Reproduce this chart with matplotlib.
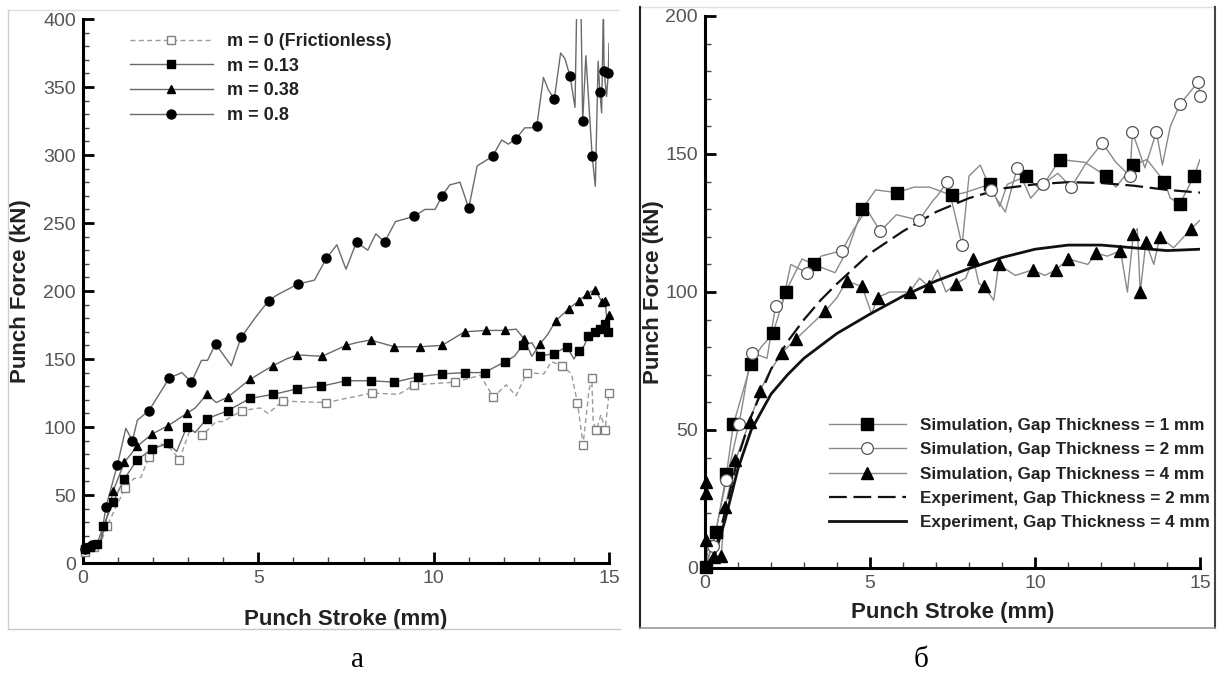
import numpy as np
import matplotlib
matplotlib.use("Agg")
import matplotlib.pyplot as plt
from matplotlib.lines import Line2D
from matplotlib.ticker import MultipleLocator

plt.rcParams['font.family'] = ['Liberation Sans', 'DejaVu Sans']

# ---------------- panel (a): friction factor m ----------------
# markers
m0_x = [0.05, 0.3, 0.68, 1.2, 1.88, 2.75, 3.40, 4.52, 5.69, 6.94, 8.23, 9.45, 10.62, 11.7,
        12.66, 13.67, 14.1, 14.26, 14.51, 14.64, 14.89, 15.0]
m0_y = [8, 12, 27, 55, 78, 76, 94, 112, 119, 118, 125, 131, 133, 122,
        140, 145, 118, 87, 136, 98, 98, 125]
# extra points of the curve between markers
m0_lx = [0, 0.45, 0.55, 1.45, 1.65, 2.2, 2.5, 3.05, 3.8, 4.0, 5.05, 5.28, 7.5, 9.0, 11.33,
         12.07, 12.35, 13.14, 13.36, 13.93, 14.43, 14.55, 14.77]
m0_ly = [0, 13, 18, 62, 63, 88, 84, 98, 104, 104, 114, 110, 121, 124, 138,
         131, 123, 139, 148, 139, 127, 103, 109]

m013_x = [0.05, 0.2, 0.4, 0.58, 0.86, 1.18, 1.55, 1.98, 2.43, 2.96, 3.53, 4.13, 4.76, 5.43,
          6.09, 6.80, 7.5, 8.2, 8.88, 9.56, 10.24, 10.88, 11.45, 12.03, 12.54, 13.03, 13.42,
          13.8, 14.15, 14.4, 14.6, 14.75, 14.89, 14.98]
m013_y = [10, 12, 14, 27, 45, 62, 76, 84, 88, 100, 106, 112, 121, 124,
          128, 130, 134, 134, 133, 137, 139, 140, 140, 148, 160, 152, 154,
          159, 156, 167, 170, 172, 176, 170]
m013_lx = [0, 2.67, 3.2, 12.3, 12.8, 14.0, 14.3, 15.0]
m013_ly = [0, 82, 96, 152, 162, 150, 160, 180]

m038_x = [0.05, 0.3, 0.86, 1.18, 1.55, 1.98, 2.43, 2.96, 3.53, 4.13, 4.76, 5.41, 6.11, 6.82,
          7.5, 8.2, 8.88, 9.61, 10.24, 10.88, 11.48, 12.03, 12.57, 13.03, 13.48, 13.85,
          14.15, 14.38, 14.6, 14.8, 14.89, 15.0]
m038_y = [12, 14, 53, 74, 86, 95, 101, 110, 124, 122, 135, 145, 153, 152,
          160, 164, 159, 159, 160, 170, 171, 171, 165, 161, 178, 187,
          193, 198, 201, 192, 193, 182]
m038_lx = [0, 0.5, 0.65, 3.2, 3.8, 5.8, 7.8, 12.35, 12.8, 13.25, 14.95]
m038_ly = [0, 15, 30, 114, 118, 150, 162, 172, 152, 168, 175]

m08_x = [0.05, 0.25, 0.65, 0.98, 1.41, 1.88, 2.46, 3.09, 3.78, 4.51, 5.30, 6.12, 6.94, 7.80,
         8.60, 9.45, 10.24, 11.0, 11.68, 12.35, 12.94, 13.44, 13.89, 14.25, 14.52, 14.74,
         14.86, 14.98]
m08_y = [10, 13, 41, 72, 90, 112, 136, 133, 161, 166, 193, 205, 224, 236,
         236, 255, 270, 261, 299, 312, 321, 341, 358, 325, 299, 346,
         362, 360]
m08_lx = [0, 0.5, 1.22, 1.55, 2.82, 3.38, 3.55, 4.23, 4.96, 5.53, 6.6, 7.24, 7.5, 8.12, 8.35,
          8.91, 9.75, 10.04, 10.46, 10.75, 11.24, 11.94, 12.13, 12.6, 12.79, 13.13, 13.27,
          13.62, 13.74, 14.03, 14.08, 14.2, 14.34, 14.61, 14.69, 14.79, 14.84, 14.93, 15.0]
m08_ly = [0, 15, 99, 105, 140, 149, 149, 145, 182, 197, 208, 234, 216, 230, 242,
          251, 260, 260, 278, 280, 292, 311, 308, 320, 320, 357, 348,
          375, 371, 335, 410, 410, 373, 277, 369, 331, 410, 343, 382]

# ---------------- panel (b): gap thickness ----------------
g1_x = [0.02, 0.33, 0.65, 0.86, 1.39, 2.06, 2.44, 3.29, 4.76, 5.81, 7.48, 8.63, 9.73, 10.75,
        12.16, 12.98, 13.92, 14.39, 14.82]
g1_y = [0.5, 13, 34, 52, 74, 85, 100, 110, 130, 136, 135, 139, 142, 148,
        142, 146, 140, 132, 142]
g1_lx = [0, 1.7, 2.94, 3.94, 4.35, 5.17, 6.34, 6.8, 7.87, 8.93, 9.16, 10.16, 11.51, 12.45,
         13.39, 14.1, 15.0]
g1_ly = [0, 80, 112, 107, 116, 137, 138, 138, 136, 131, 139, 137, 147, 138,
         148, 134, 148]

g2_x = [0.23, 0.65, 1.03, 1.41, 2.14, 3.08, 4.15, 5.31, 6.48, 7.34, 7.79, 8.66, 9.46, 10.24,
        11.1, 12.04, 12.88, 12.95, 13.68, 14.39, 14.94, 15.0]
g2_y = [8, 32, 52, 78, 95, 107, 115, 122, 126, 140, 117, 137, 145, 139,
        138, 154, 142, 158, 158, 168, 176, 171]
g2_lx = [0, 1.88, 2.35, 2.6, 3.52, 4.52, 4.9, 5.8, 6.9, 7.05, 8.0, 8.34, 9.1, 9.87, 10.69,
         11.51, 12.45, 13.33, 13.86, 14.1]
g2_ly = [0, 76, 96, 110, 113, 123, 130, 128, 133, 135, 142, 146, 129, 134, 143,
         146, 147, 145, 146, 160]

g4_x = [0.02, 0.03, 0.04, 0.27, 0.49, 0.61, 0.92, 1.35, 1.67, 2.33, 2.76, 3.64, 4.29, 4.76,
        5.23, 6.2, 6.78, 7.6, 8.13, 8.46, 8.9, 9.93, 10.63, 11.01, 11.86, 12.59, 12.98,
        13.19, 13.36, 13.78, 14.74]
g4_y = [31, 27, 10, 4, 4.5, 22, 39, 53, 64, 78, 83, 93, 104, 102,
        98, 100, 102, 103, 112, 102, 110, 108, 108, 112, 114, 115, 121,
        100, 118, 120, 123]
g4_lx = [0, 0.01, 0.1, 1.9, 3.2, 4.0, 5.05, 5.6, 6.5, 7.05, 7.3, 7.9, 8.3, 8.75, 9.4, 10.3,
         11.3, 11.6, 12.2, 12.8, 13.1, 13.6, 14.2, 15.0]
g4_ly = [0, 35, 2, 70, 88, 98, 92, 100, 105, 108, 100, 105, 103, 97, 106, 106,
         111, 110, 113, 100, 123, 110, 116, 126]

exp2_x = [0, 0.3, 0.6, 1.0, 1.4, 2.0, 2.5, 3.0, 3.5, 4.0, 5.0, 6.0, 7.0, 8.0, 9.0, 10.0,
          11.0, 12.0, 13.0, 14.0, 15.0]
exp2_y = [0, 6, 20, 40, 55, 72, 82, 90, 97, 103, 114, 122, 129, 134, 137.5, 139,
          139.8, 139.5, 138.5, 137, 136]
exp4_x = [0, 0.3, 0.6, 1.0, 1.4, 2.0, 2.5, 3.0, 4.0, 5.0, 6.0, 7.0, 8.0, 9.0, 10.0,
          11.0, 12.0, 13.0, 14.0, 15.0]
exp4_y = [0, 5, 17, 36, 50, 63, 70, 76, 85, 92, 98.5, 104, 108.5, 112.5, 115.5,
          117, 117, 116, 115, 115.5]

left_labels = ['m = 0 (Frictionless)', 'm = 0.13', 'm = 0.38', 'm = 0.8']
right_labels = ['Simulation, Gap Thickness = 1 mm', 'Simulation, Gap Thickness = 2 mm',
                'Simulation, Gap Thickness = 4 mm', 'Experiment, Gap Thickness = 2 mm',
                'Experiment, Gap Thickness = 4 mm']


def merge(mx, my, lx, ly):
    x = np.concatenate([mx, lx])
    y = np.concatenate([my, ly])
    o = np.argsort(x, kind='stable')
    return x[o], y[o]


def series(ax, mx, my, lx, ly, line_kw, mark_kw):
    x, y = merge(mx, my, lx, ly)
    ax.plot(x, y, **line_kw)
    ax.plot(mx, my, ls='none', clip_on=False, zorder=4, **mark_kw)
    return Line2D([], [], **line_kw, **mark_kw)


def style_axes(ax, ymax, ystep):
    ax.set_xlim(0, 15)
    ax.set_ylim(0, ymax)
    for s in ['top', 'right']:
        ax.spines[s].set_visible(False)
    for s in ['left', 'bottom']:
        ax.spines[s].set_linewidth(2.2)
    ax.xaxis.set_major_locator(MultipleLocator(5))
    ax.xaxis.set_minor_locator(MultipleLocator(1))
    ax.yaxis.set_major_locator(MultipleLocator(ystep))
    ax.yaxis.set_minor_locator(MultipleLocator(10))
    ax.tick_params(which='both', direction='in', top=False, right=False,
                   labelsize=14, labelcolor='#555555', pad=5)
    ax.tick_params(which='major', length=8, width=2)
    ax.tick_params(which='minor', length=4, width=1, color='#444444')
    ax.set_facecolor('none')


W, H = 1227, 683
fig = plt.figure(figsize=(W / 100, H / 100), dpi=100)


def frac_rect(x0, y0, x1, y1):
    return [x0 / W, 1 - y1 / H, (x1 - x0) / W, (y1 - y0) / H]


def frame_line(x0, y0, x1, y1, color, lw):
    fig.add_artist(Line2D([x0 / W, x1 / W], [1 - y0 / H, 1 - y1 / H], color=color, lw=lw,
                          transform=fig.transFigure))


# panel frames
frame_line(8, 10, 618, 10, '#dddddd', 1)
frame_line(8, 10, 8, 629, '#cfcfcf', 1)
frame_line(8, 629, 620, 629, '#c8c8c8', 1)
frame_line(640, 7, 1215, 7, '#e0e0e0', 1)
frame_line(640, 7, 640, 628, '#222222', 1.5)
frame_line(1215, 7, 1215, 628, '#444444', 1.5)
frame_line(640, 628, 1215, 628, '#999999', 1.2)

# ---- left panel ----
ax1 = fig.add_axes(frac_rect(83, 19, 609, 563))
style_axes(ax1, 400, 50)
h = []
h.append(series(ax1, m0_x, m0_y, m0_lx, m0_ly,
                dict(color='#9a9a9a', lw=1.0, dashes=[3.6, 2.4]),
                dict(marker='s', ms=5.5, mfc='white', mec='#808080', mew=1.0)))
h.append(series(ax1, m013_x, m013_y, m013_lx, m013_ly,
                dict(color='#6a6a6a', lw=1.0),
                dict(marker='s', ms=5.5, mfc='black', mec='black')))
h.append(series(ax1, m038_x, m038_y, m038_lx, m038_ly,
                dict(color='#6a6a6a', lw=1.0),
                dict(marker='^', ms=5.5, mfc='black', mec='black')))
h.append(series(ax1, m08_x, m08_y, m08_lx, m08_ly,
                dict(color='#6a6a6a', lw=1.0),
                dict(marker='o', ms=6.5, mfc='black', mec='black')))
ax1.legend(h, left_labels, loc='upper left', bbox_to_anchor=(0.089, 0.974),
           frameon=False, borderpad=0, borderaxespad=0, handlelength=4.6,
           handletextpad=0.78, labelspacing=0.42, numpoints=1,
           prop=dict(size=13, weight='bold'), labelcolor='#222222')
ax1.set_xlabel('Punch Stroke (mm)', fontsize=16, fontweight='bold', color='#222222')
ax1.set_ylabel('Punch Force (kN)', fontsize=16, fontweight='bold', color='#222222')
ax1.xaxis.set_label_coords(0.5, -0.085)
ax1.yaxis.set_label_coords(-0.098, 0.5)

# ---- right panel ----
ax2 = fig.add_axes(frac_rect(705, 16, 1200, 568))
style_axes(ax2, 200, 50)
h = []
h.append(series(ax2, g1_x, g1_y, g1_lx, g1_ly,
                dict(color='#8a8a8a', lw=1.0),
                dict(marker='s', ms=8, mfc='black', mec='black')))
h.append(series(ax2, g2_x, g2_y, g2_lx, g2_ly,
                dict(color='#8a8a8a', lw=1.0),
                dict(marker='o', ms=8.5, mfc='white', mec='#555555', mew=0.9)))
h.append(series(ax2, g4_x, g4_y, g4_lx, g4_ly,
                dict(color='#8a8a8a', lw=1.0),
                dict(marker='^', ms=8.5, mfc='black', mec='black')))
ax2.plot(exp2_x, exp2_y, color='#111111', lw=1.6, dashes=[8, 3], zorder=3)
ax2.plot(exp4_x, exp4_y, color='#111111', lw=2.0, zorder=3)
h.append(Line2D([], [], color='#111111', lw=1.6, dashes=[8, 3]))
h.append(Line2D([], [], color='#111111', lw=2.0))
ax2.legend(h, right_labels, loc='upper left', bbox_to_anchor=(0.2505, 0.271),
           frameon=False, borderpad=0, borderaxespad=0, handlelength=4.5,
           handletextpad=0.85, labelspacing=0.53, numpoints=1,
           prop=dict(size=12.3, weight='bold'), labelcolor='#222222')
ax2.set_xlabel('Punch Stroke (mm)', fontsize=16, fontweight='bold', color='#222222')
ax2.set_ylabel('Punch Force (kN)', fontsize=16, fontweight='bold', color='#222222')
ax2.xaxis.set_label_coords(0.5, -0.062)
ax2.yaxis.set_label_coords(-0.082, 0.5)

# captions under the panels
fig.text(357 / W, 1 - 660 / H, 'а', ha='center', va='center', fontsize=21,
         family=['Liberation Serif', 'DejaVu Serif'])
fig.text(921 / W, 1 - 660 / H, 'б', ha='center', va='center', fontsize=21,
         family=['Liberation Serif', 'DejaVu Serif'])

fig.savefig('out.png', dpi=100)
